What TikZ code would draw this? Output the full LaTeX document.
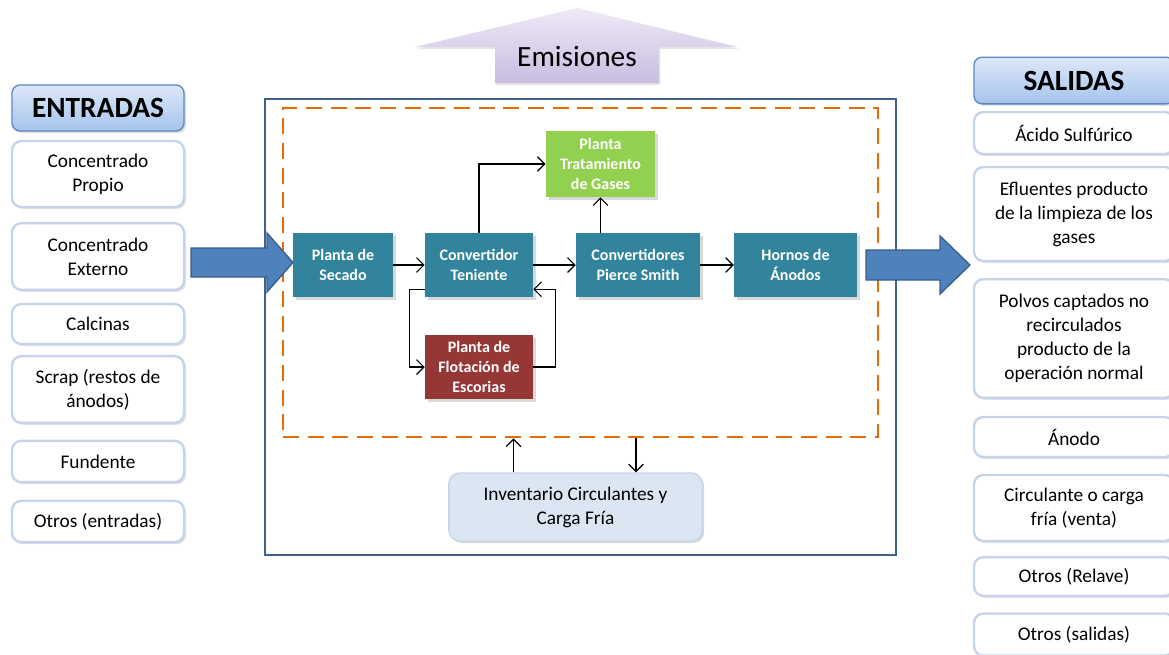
\documentclass[tikz,border=0pt]{standalone}
\usepackage{fontspec}
\setmainfont{Carlito}
\usetikzlibrary{arrows.meta,shadows,calc}

\definecolor{sideline}{HTML}{C6D4E9}
\definecolor{headtop}{HTML}{DCE8F8}
\definecolor{headbot}{HTML}{A6C3EC}
\definecolor{headline}{HTML}{5B87C5}
\definecolor{tealbox}{HTML}{31849B}
\definecolor{greenbox}{HTML}{92D050}
\definecolor{redbox}{HTML}{953735}
\definecolor{frameblue}{HTML}{3F6190}
\definecolor{dashorange}{HTML}{E46C0A}
\definecolor{arrowblue}{HTML}{4F81BD}
\definecolor{arrowline}{HTML}{385D8A}
\definecolor{invfill}{HTML}{DCE6F2}
\definecolor{emistop}{HTML}{EEE9F6}
\definecolor{emisbot}{HTML}{C9BDE0}

\begin{document}
\begin{tikzpicture}[
    x=0.75pt, y=-0.75pt,
    sidebox/.style={draw=sideline, line width=1.8pt, fill=white, rounded corners=7pt, align=center, inner sep=0pt,
        font=\fontsize{14.5}{18}\selectfont, drop shadow={shadow xshift=1.5pt, shadow yshift=-1.5pt, opacity=0.25}},
    leftbox/.style={sidebox, minimum width=129pt},
    rightbox/.style={sidebox, minimum width=150pt},
    headbox/.style={draw=headline, line width=1pt, rounded corners=6pt, top color=headtop, bottom color=headbot,
        inner sep=0pt, font=\bfseries\fontsize{22}{26}\selectfont, drop shadow={shadow xshift=1.5pt, shadow yshift=-1.5pt, opacity=0.25}},
    unit/.style={fill=tealbox, text=white, align=center, inner sep=0pt, minimum height=48pt,
        font=\bfseries\fontsize{12}{15}\selectfont, drop shadow={shadow xshift=2pt, shadow yshift=-2pt, opacity=0.3}},
    flow/.style={-{Straight Barb[length=5.5pt, width=11pt]}, line width=0.9pt},
    bigarrow/.style={fill=arrowblue, draw=arrowline, line width=1pt}
]
\clip (0,0) rectangle (1169,654);

% --- Entradas ---
\node[headbox, minimum width=129pt, minimum height=34.5pt] (entradas) at (98,108) {ENTRADAS};
\node[leftbox, minimum height=49.5pt] (propio) at (98,174) {Concentrado\\Propio};
\node[leftbox, minimum height=50pt] (externo) at (98,256.5) {Concentrado\\Externo};
\node[leftbox, minimum height=30pt] (calcinas) at (98,324) {Calcinas};
\node[leftbox, minimum height=50pt] (scrap) at (98,389.5) {Scrap (restos de\\ánodos)};
\node[leftbox, minimum height=31pt] (fundente) at (98,461.5) {Fundente};
\node[leftbox, minimum height=31pt] (otrosent) at (98,521.5) {Otros (entradas)};

% --- Salidas ---
\node[headbox, minimum width=150pt, minimum height=35pt] (salidas) at (1074,80.5) {SALIDAS};
\node[rightbox, minimum height=31.5pt] (acido) at (1074,133) {Ácido Sulfúrico};
\node[rightbox, minimum height=70.5pt] (efluentes) at (1074,214) {Efluentes producto\\de la limpieza de los\\gases};
\node[rightbox, minimum height=89pt] (polvos) at (1074,338.5) {Polvos captados no\\recirculados\\producto de la\\operación normal};
\node[rightbox, minimum height=30pt] (anodo) at (1074,437) {Ánodo};
\node[rightbox, minimum height=49.5pt] (circulante) at (1074,508) {Circulante o carga\\fría (venta)};
\node[rightbox, minimum height=29pt] (relave) at (1074,576.5) {Otros (Relave)};
\node[rightbox, minimum height=31.5pt] (otrossal) at (1074,634.5) {Otros (salidas)};

% Emisiones arrow
\shade[top color=emistop, bottom color=emisbot, drop shadow={shadow xshift=1pt, shadow yshift=-1.5pt, opacity=0.2}]
    (415,47) -- (577,8) -- (738,47) -- (659,47) -- (659,83) -- (495,83) -- (495,47) -- cycle;
\node[font=\fontsize{22}{26}\selectfont] (emis) at (577,57) {Emisiones};

% Frame and process area
\draw[frameblue, line width=1.5pt] (265,99) rectangle (896,555);
\node[draw=dashorange, line width=2.2pt, dash pattern=on 12pt off 6.5pt, minimum width=446.25pt, minimum height=246.75pt,
    inner sep=0pt] (proc) at (580.5,272.5) {};

% Big arrows
\draw[bigarrow] (191,248) -- (267,248) -- (267,233) -- (293,262.5) -- (267,292) -- (267,277) -- (191,277) -- cycle;
\draw[bigarrow] (866,250) -- (940,250) -- (940,236) -- (970,265) -- (940,294) -- (940,280) -- (866,280) -- cycle;

% Units
\node[unit, minimum width=75pt] (secado) at (343,265) {Planta de\\Secado};
\node[unit, minimum width=81pt] (teniente) at (479,265) {Convertidor\\Teniente};
\node[unit, minimum width=93pt] (pierce) at (638,265) {Convertidores\\Pierce Smith};
\node[unit, minimum width=92pt] (hornos) at (795.5,265) {Hornos de\\Ánodos};
\node[unit, fill=greenbox, minimum width=82pt, minimum height=49.5pt] (gases) at (600.5,164) {Planta\\Tratamiento\\de Gases};
\node[unit, fill=redbox, minimum width=81pt] (flotacion) at (479,367) {Planta de\\Flotación de\\Escorias};

\draw[flow] (secado) -- (teniente);
\draw[flow] (teniente) -- (pierce);
\draw[flow] (pierce) -- (hornos);
\draw[flow] (teniente.north) |- (gases.west);
\draw[flow] (gases.south |- pierce.north) -- (gases.south);
\draw[flow] ($(teniente.south west)+(0,-8)$) -- ++(-15,0) |- (flotacion.west);
\draw[flow] (flotacion.east) -- ++(22,0) |- ($(teniente.south east)+(0,-8)$);

% Inventario
\node[draw=sideline, line width=1pt, fill=invfill, rounded corners=8pt, minimum width=190pt, minimum height=51pt, align=center,
    inner sep=0pt, font=\fontsize{14.5}{18}\selectfont, drop shadow={shadow xshift=1.5pt, shadow yshift=-1.5pt, opacity=0.3}]
    (inv) at (575.5,507) {Inventario Circulantes y\\Carga Fría};
\coordinate (invup) at ($(inv.north)+(-62,0)$);
\coordinate (invdown) at ($(inv.north)+(60.5,0)$);
\draw[flow] (invup) -- (invup |- proc.south);
\draw[flow] (invdown |- proc.south) -- (invdown);

\end{tikzpicture}
\end{document}
